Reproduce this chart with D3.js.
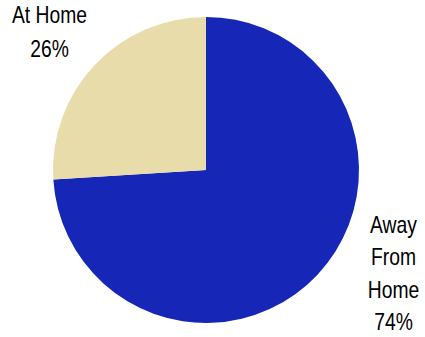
<!DOCTYPE html>
<html><head><meta charset="utf-8">
<script src="https://cdn.jsdelivr.net/npm/d3@7"></script>
<style>body{margin:0;background:#fff}svg{display:block}</style>
</head><body>
<svg id="c" width="425" height="337"></svg>
<script>
const categories = ["Away From Home", "At Home"];
const values = [74, 26];
const labelLines = [["Away", "From", "Home", "74%"], ["At Home", "26%"]];
const colors = ["#1626b6", "#e8dcaa"];

const svg = d3.select("#c");
const cx = 206, cy = 170, r = 153;
const pie = d3.pie().sort(null).value(d => d)(values);
const arc = d3.arc().innerRadius(0).outerRadius(r);
const g = svg.append("g").attr("transform", `translate(${cx},${cy})`);
g.selectAll("path").data(pie).enter().append("path")
  .attr("d", arc).attr("fill", (d, i) => colors[i]);

const labelPos = [{x: 393.5, y: 233, lh: 32.3}, {x: 49.5, y: 23, lh: 34}];
labelLines.forEach((lines, i) => {
  const p = labelPos[i];
  const t = svg.append("text")
    .attr("transform", `translate(${p.x},${p.y}) scale(0.84,1)`)
    .attr("text-anchor", "middle")
    .attr("font-family", "'Liberation Sans', Arial, sans-serif")
    .attr("font-size", 23).attr("fill", "#000");
  lines.forEach((s, j) => {
    t.append("tspan").attr("x", 0).attr("y", j * p.lh).text(s);
  });
});
</script>
</body></html>
